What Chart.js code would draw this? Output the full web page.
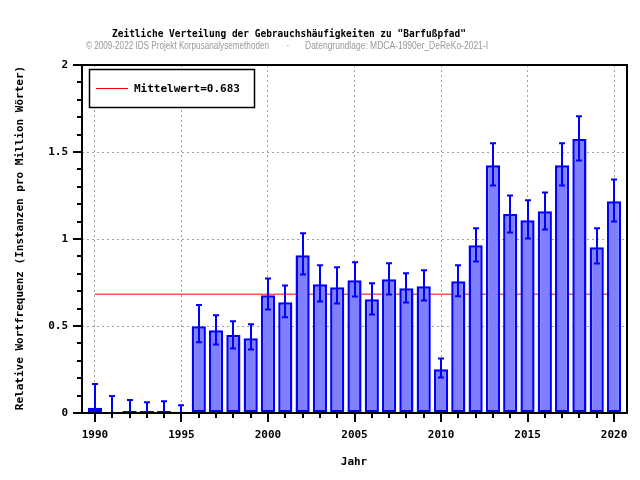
<!DOCTYPE html>
<html>
<head>
<meta charset="utf-8">
<script src="https://cdn.jsdelivr.net/npm/chart.js@4"></script>
<style>
  html, body { margin: 0; padding: 0; background: #fff }
</style>
</head>
<body>
<canvas id="chart" width="640" height="480"></canvas>
<script>
const years = [1990, 1991, 1992, 1993, 1994, 1995, 1996, 1997, 1998, 1999,
               2000, 2001, 2002, 2003, 2004, 2005, 2006, 2007, 2008, 2009,
               2010, 2011, 2012, 2013, 2014, 2015, 2016, 2017, 2018, 2019, 2020]
const freq = [0.030, 0, 0.012, 0.012, 0.012, 0.007, 0.499, 0.476, 0.449, 0.430,
              0.677, 0.637, 0.907, 0.740, 0.723, 0.763, 0.654, 0.769, 0.717, 0.729,
              0.252, 0.757, 0.964, 1.424, 1.143, 1.108, 1.160, 1.424, 1.574, 0.953, 1.217]
const errHigh = [0.166, 0.097, 0.074, 0.062, 0.068, 0.045, 0.620, 0.562, 0.528, 0.510,
                 0.773, 0.733, 1.033, 0.849, 0.838, 0.867, 0.746, 0.861, 0.803, 0.821,
                 0.313, 0.849, 1.062, 1.551, 1.250, 1.223, 1.267, 1.551, 1.706, 1.062, 1.342]
const errLow = [0, 0, 0, 0, 0, 0, 0.407, 0.394, 0.371, 0.365,
                0.595, 0.551, 0.796, 0.641, 0.629, 0.670, 0.566, 0.681, 0.635, 0.647,
                0.204, 0.671, 0.871, 1.307, 1.037, 1.003, 1.054, 1.307, 1.451, 0.859, 1.100]
const meanValue = 0.683
const xTickYears = [1990, 1995, 2000, 2005, 2010, 2015, 2020]
const yTickValues = [0, 0.5, 1, 1.5, 2]

const TITLE = 'Zeitliche Verteilung der Gebrauchshäufigkeiten zu "Barfußpfad"'
const COPY = '© 2009-2022 IDS Projekt Korpusanalysemethoden'
const SOURCE = 'Datengrundlage: MDCA-1990er_DeReKo-2021-I'
const Y_TITLE = 'Relative Wortfrequenz (Instanzen pro Million Wörter)'
const X_TITLE = 'Jahr'

const MONO = '"DejaVu Sans Mono", monospace'
const tickFont = { family: MONO, size: 11, weight: 'bold' }
const GRID = '#a0a0a0'

// text squeezed to a given width (the original uses a narrow font)
function fitText(ctx, text, x, y, width) {
  const w = ctx.measureText(text).width
  ctx.save()
  ctx.translate(x, y)
  ctx.scale(width / w, 1)
  ctx.fillText(text, 0, 0)
  ctx.restore()
}

// error bars, frame, outward ticks, texts and legend box
const decor = {
  id: 'decor',
  afterDatasetsDraw(chart) {
    const { ctx, chartArea: a, scales: { x, y } } = chart
    ctx.save()

    ctx.strokeStyle = '#0000ff'
    ctx.lineWidth = 2
    years.forEach((yr, i) => {
      const px = Math.round(x.getPixelForValue(yr))
      const top = y.getPixelForValue(errHigh[i])
      const bot = y.getPixelForValue(errLow[i])
      ctx.beginPath()
      ctx.moveTo(px, top); ctx.lineTo(px, bot)
      ctx.moveTo(px - 3, top); ctx.lineTo(px + 3, top)
      ctx.moveTo(px - 3, bot); ctx.lineTo(px + 3, bot)
      ctx.stroke()
    })

    // frame
    ctx.strokeStyle = '#000'
    ctx.lineWidth = 2
    ctx.strokeRect(a.left, a.top, a.right - a.left, a.bottom - a.top)

    // ticks (outward)
    ctx.beginPath()
    years.forEach(yr => {
      const px = Math.round(x.getPixelForValue(yr))
      const len = yr % 5 === 0 ? 9 : 5
      ctx.moveTo(px, a.bottom); ctx.lineTo(px, a.bottom + len)
    })
    for (let k = 0; k <= 20; k++) {
      const py = Math.round(y.getPixelForValue(k / 10))
      const len = k % 5 === 0 ? 9 : 5
      ctx.moveTo(a.left, py); ctx.lineTo(a.left - len, py)
    }
    ctx.stroke()

    // titles
    ctx.fillStyle = '#000'
    ctx.textBaseline = 'middle'
    ctx.textAlign = 'left'
    ctx.font = 'bold 10.5px ' + MONO
    fitText(ctx, TITLE, 112, 34, 354)

    ctx.fillStyle = '#999'
    ctx.font = '11px "Liberation Sans", sans-serif'
    fitText(ctx, COPY, 86, 46, 183)
    ctx.fillText('·', 286, 46)
    fitText(ctx, SOURCE, 305, 46, 183)

    ctx.fillStyle = '#000'
    ctx.font = 'bold 11px ' + MONO
    ctx.textAlign = 'center'
    ctx.fillText(X_TITLE, 354, 462)
    ctx.save()
    ctx.translate(20, 238)
    ctx.rotate(-Math.PI / 2)
    ctx.fillText(Y_TITLE, 0, 0)
    ctx.restore()

    // legend
    const meanSet = chart.data.datasets[1]
    ctx.fillStyle = '#fff'
    ctx.fillRect(89.5, 69.5, 165, 38)
    ctx.lineWidth = 1.5
    ctx.strokeStyle = '#000'
    ctx.strokeRect(89.5, 69.5, 165, 38)
    ctx.strokeStyle = meanSet.borderColor
    ctx.lineWidth = 1
    ctx.beginPath()
    ctx.moveTo(96, 88.5); ctx.lineTo(128, 88.5)
    ctx.stroke()
    ctx.fillStyle = '#000'
    ctx.textAlign = 'left'
    ctx.fillText(meanSet.label, 134, 89)

    ctx.restore()
  }
}

new Chart(document.getElementById('chart'), {
  type: 'bar',
  data: {
    datasets: [
      {
        type: 'bar',
        label: 'Relative Wortfrequenz',
        data: years.map((yr, i) => ({ x: yr, y: freq[i] })),
        backgroundColor: '#8080ff',
        borderColor: '#0000ff',
        borderWidth: 2.5,
        borderSkipped: false,
        barPercentage: 0.82,
        categoryPercentage: 1,
        order: 1
      },
      {
        type: 'line',
        label: 'Mittelwert=' + meanValue,
        data: [{ x: years[0], y: meanValue }, { x: years[years.length - 1], y: meanValue }],
        borderColor: '#ff0000',
        borderWidth: 1,
        pointRadius: 0,
        order: 2
      }
    ]
  },
  options: {
    responsive: false,
    animation: false,
    layout: { padding: { top: 65, right: 13, left: 0, bottom: 0 } },
    plugins: { legend: { display: false }, tooltip: { enabled: false } },
    scales: {
      x: {
        type: 'linear',
        min: 1989.25,
        max: 2020.75,
        offset: false,
        afterBuildTicks: s => { s.ticks = xTickYears.map(v => ({ value: v })) },
        afterFit: s => { s.height = 67; s.paddingLeft = 0; s.paddingRight = 0 },
        grid: { color: GRID, lineWidth: 1, drawTicks: false, offset: false },
        border: { display: false, dash: [2, 3] },
        ticks: { font: tickFont, color: '#000', padding: 16, maxRotation: 0, autoSkip: false, callback: v => String(v) }
      },
      y: {
        min: 0,
        max: 2,
        afterBuildTicks: s => { s.ticks = yTickValues.map(v => ({ value: v })) },
        afterFit: s => { s.width = 82; s.paddingTop = 0; s.paddingBottom = 0 },
        grid: { color: c => (c.tick && (c.tick.value === 0 || c.tick.value === 2)) ? 'transparent' : GRID, lineWidth: 1, drawTicks: false },
        border: { display: false, dash: [2, 3] },
        ticks: { font: tickFont, color: '#000', padding: 14, callback: v => String(v) }
      }
    }
  },
  plugins: [decor]
})
</script>
</body>
</html>
